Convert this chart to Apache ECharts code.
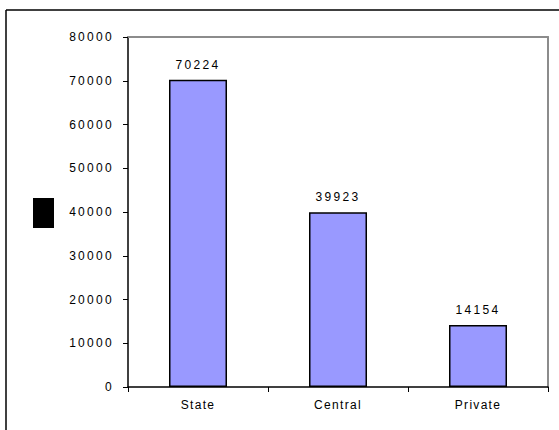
<!DOCTYPE html>
<html>
<head>
<meta charset="utf-8">
<script src="https://cdn.jsdelivr.net/npm/echarts@6/dist/echarts.min.js"></script>
<style>
  html, body { margin: 0; padding: 0; background: #fff; }
  #chart { width: 559px; height: 430px; }
  /* wide tracking for the numeric text, lighter tracking for category names */
  #chart svg text[style*="Arial"] { letter-spacing: 2.3px; }
  #chart svg text[style*="Liberation Sans"] { letter-spacing: 1.3px; }
</style>
</head>
<body>
<div id="chart"></div>
<script>
const categories = ['State', 'Central', 'Private'];
const values = [70224, 39923, 14154];
const yTicks = [0, 10000, 20000, 30000, 40000, 50000, 60000, 70000, 80000];

const chart = echarts.init(document.getElementById('chart'), null, { renderer: 'svg' });

// plain gray edge for the top and right sides of the plot box
const frameAxis = {
  show: true,
  axisLine: { show: true, onZero: false, lineStyle: { color: '#8c8c8c', width: 2 } },
  axisTick: { show: false },
  axisLabel: { show: false },
  splitLine: { show: false }
};

chart.setOption({
  animation: false,
  backgroundColor: '#ffffff',
  grid: { left: 128, top: 37, right: 11, bottom: 43 },
  xAxis: [{
    type: 'category',
    data: categories,
    boundaryGap: true,
    axisLine: { show: true, lineStyle: { color: '#000', width: 1.5 } },
    axisTick: { show: true, length: 5, lineStyle: { color: '#000', width: 1 } },
    axisLabel: { color: '#000', fontSize: 12, fontFamily: 'Liberation Sans', margin: 12 },
    splitLine: { show: false }
  }, Object.assign({ type: 'category', data: categories, position: 'top' }, frameAxis)],
  yAxis: [{
    type: 'value',
    min: yTicks[0],
    max: yTicks[yTicks.length - 1],
    interval: yTicks[1] - yTicks[0],
    axisLine: { show: true, lineStyle: { color: '#000', width: 1.5 } },
    axisTick: { show: true, length: 5, lineStyle: { color: '#000', width: 1 } },
    axisLabel: {
      color: '#000', fontSize: 12, fontFamily: 'Arial', margin: 14,
      formatter: v => String(v)
    },
    splitLine: { show: false }
  }, Object.assign({
    type: 'value', position: 'right',
    min: yTicks[0], max: yTicks[yTicks.length - 1], interval: yTicks[1] - yTicks[0]
  }, frameAxis)],
  series: [{
    type: 'bar',
    data: values,
    barWidth: 58,
    itemStyle: { color: '#9999ff', borderColor: '#000', borderWidth: 1.5 },
    label: {
      show: true,
      position: 'top',
      distance: 9,
      color: '#000',
      fontSize: 12,
      fontFamily: 'Arial'
    }
  }],
  graphic: [
    // chart area frame (top and left edges)
    { type: 'line', shape: { x1: 6, y1: 10, x2: 559, y2: 10 }, style: { stroke: '#000', lineWidth: 1.5 } },
    { type: 'line', shape: { x1: 6, y1: 10, x2: 6, y2: 430 }, style: { stroke: '#000', lineWidth: 1.5 } },
    // axis title block
    { type: 'rect', shape: { x: 33, y: 198, width: 21, height: 30 }, style: { fill: '#000' } }
  ]
});
</script>
</body>
</html>
